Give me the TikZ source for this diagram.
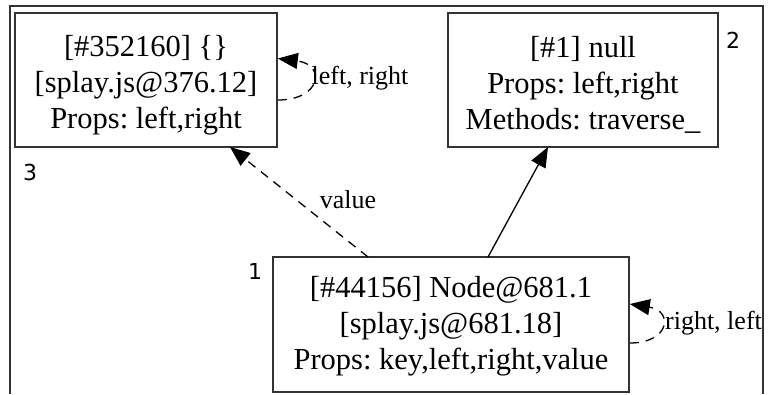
\documentclass[tikz,border=0pt]{standalone}
\usepackage{fontspec}
\setmainfont{Liberation Serif}
\newfontfamily\numfont{DejaVu Sans}
\usetikzlibrary{arrows.meta}
\frenchspacing
\tikzset{
  objbox/.style={draw=black!80, line width=1.6pt, rectangle, inner sep=0pt},
  objtext/.style={inner sep=0pt, align=center, font=\fontsize{30.5}{36}\selectfont},
  lbl/.style={font=\fontsize{26}{30}\selectfont, inner sep=0pt},
  num/.style={font=\numfont\fontsize{22}{24}\selectfont, inner sep=0pt},
  edge/.style={line width=1.3pt, -{Triangle[length=20pt,width=16pt]}},
  frame/.style={draw=black!80, line width=1.6pt}
}
\begin{document}
\begin{tikzpicture}[x=1pt,y=-1pt]
\useasboundingbox (0,0) rectangle (768,394);
\draw[frame] (10,394) -- (10,6) -- (763,6) -- (763,394);
\node[objbox, minimum width=262pt, minimum height=134pt] (n3) at (146,80) {};
\node[objtext] (t3) at ([yshift=-5pt]n3.center)
  {[\#352160] \{\}\\{}[splay.js@376.12]\\Props: left,right};
\node[objbox, minimum width=270pt, minimum height=134pt] (n2) at (583,80) {};
\node[objtext] (t2) at ([yshift=-5pt]n2.center)
  {[\#1] null\\Props: left,right\\Methods: traverse\_};
\node[objbox, minimum width=356pt, minimum height=135pt] (n1) at (451,324.5) {};
\node[objtext] (t1) at ([yshift=-2pt]n1.center)
  {[\#44156] Node@681.1\\{}[splay.js@681.18]\\Props: key,left,right,value};
\node[num] (l3) at (30,172) {3};
\node[num] (l2) at (733,40) {2};
\node[num] (l1) at (255,271) {1};
\coordinate (v1) at (368,257);
\coordinate (v3) at (230,147);
\draw[edge, dash pattern=on 9pt off 7pt] (v1) -- (v3);
\node[lbl] (lv) at (348,200) {value};
\coordinate (s1) at (488,257);
\coordinate (s2) at (548,147);
\draw[edge] (s1) -- (s2);
\draw[edge, dash pattern=on 9pt off 7pt] ([yshift=-20pt]n3.east) .. controls +(44,0) and +(48,6) .. ([yshift=21.5pt]n3.east);
\node[lbl] (ll3) at (360,78) {left, right};
\draw[edge, dash pattern=on 9pt off 7pt] ([yshift=-18.5pt]n1.east) .. controls +(40,0) and +(44,7) .. ([yshift=20.5pt]n1.east);
\node[lbl] (ll1) at (713.5,323) {right, left};
\end{tikzpicture}
\end{document}
